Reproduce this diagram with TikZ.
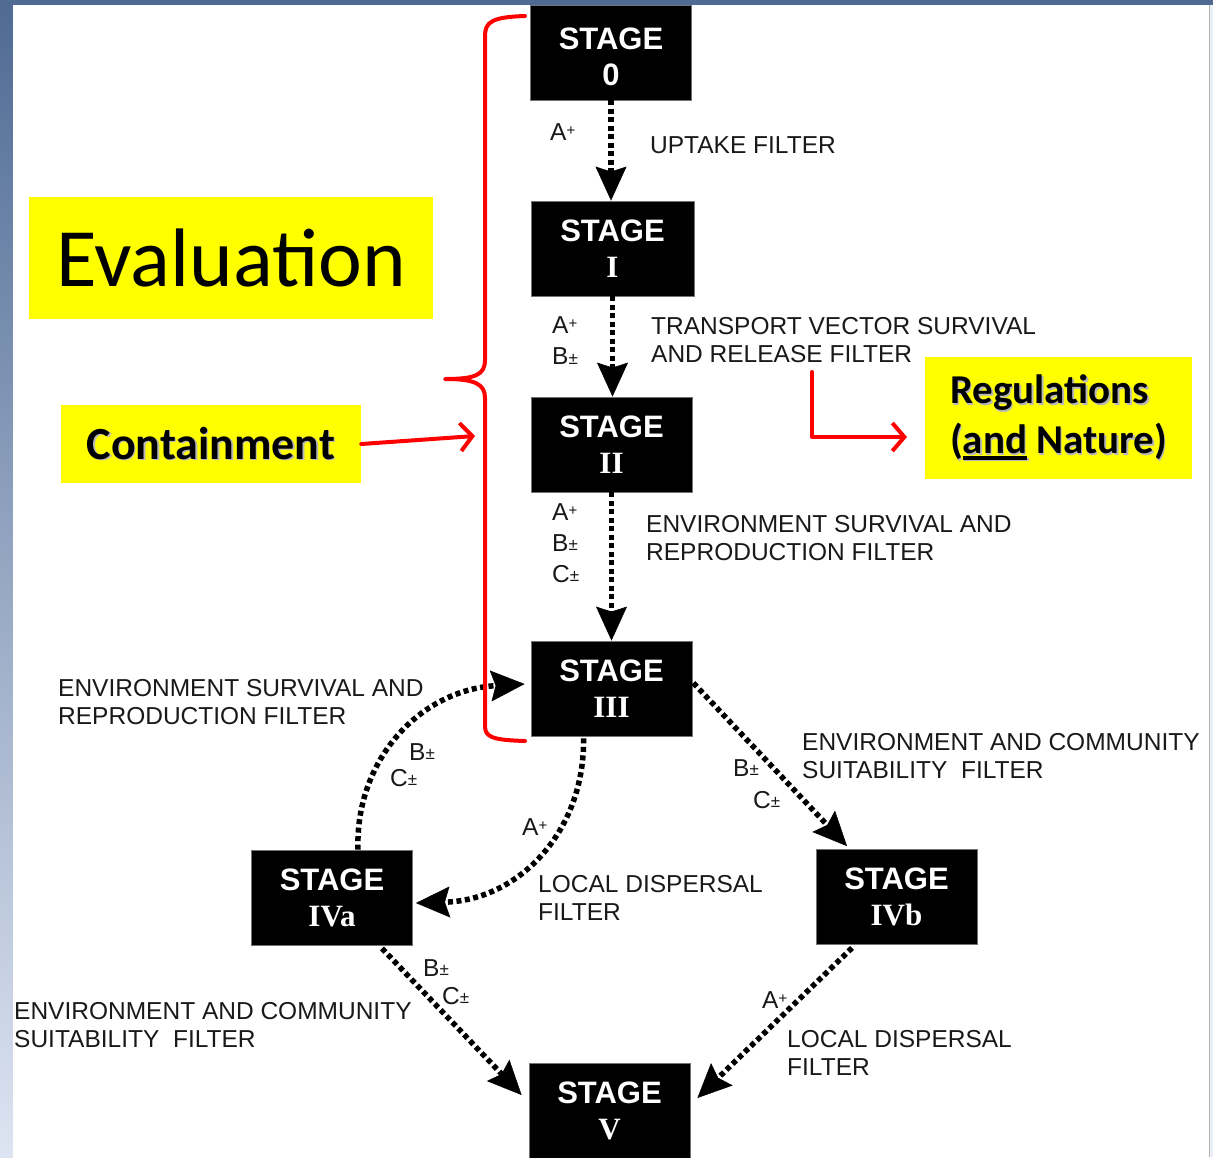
\documentclass[tikz,border=0pt]{standalone}
\usepackage{fontspec}
\setmainfont{Liberation Sans}
\newfontfamily\lsans{Liberation Sans}
\newfontfamily\lserif{Liberation Serif}
\newfontfamily\carl{Carlito}
\usetikzlibrary{arrows.meta}
\definecolor{bardark}{HTML}{4F6B94}
\definecolor{barmid}{HTML}{BCCAE8}
\definecolor{barlight}{HTML}{DDE4F2}
\definecolor{hiyel}{HTML}{FFFF00}
\definecolor{redann}{HTML}{FF0000}
\newcommand\mypl{{\fontsize{15}{15}\selectfont\raisebox{5pt}{+}}}
\newcommand\mypm{{\fontsize{17}{17}\selectfont\raisebox{0.5pt}{±}}}
\newcommand\shadtxt[1]{\rlap{\kern1.5pt\raisebox{-1.5pt}{\color{black!28}#1}}#1}
\newcommand\thickul[1]{\setbox0\hbox{#1}\rlap{\rule[-6pt]{\wd0}{3.5pt}}\box0\relax}
\newcommand\stg[1]{{\lsans\bfseries STAGE}\\{\lserif\bfseries #1}}
\tikzset{
  stagebox/.style={fill=black, draw=black!55, line width=0.8pt, minimum width=161pt,
    minimum height=95pt, inner sep=0pt, text=white, align=center,
    font=\fontsize{31}{36}\selectfont},
  lbl/.style={anchor=west, inner sep=0pt, align=left, text=black!90,
    font=\fontsize{24.5}{28}\selectfont},
  lblstack/.style={lbl, font=\fontsize{24.5}{31}\selectfont},
  dotarrow/.style={line width=5.5pt, dash pattern=on 5pt off 3.5pt,
    -{Stealth[length=34pt, width=31pt, inset=5pt, line width=0.5pt]}},
  redline/.style={redann, line width=4pt, line cap=round, line join=round},
  redarrow/.style={redline, -{Straight Barb[length=12pt, width=28pt]}},
  yelbox/.style={fill=hiyel, inner sep=0pt, text=black}
}
\begin{document}
\begin{tikzpicture}[x=1pt, y=-1pt]
\useasboundingbox (0,0) rectangle (1213,1157);
% frame background
\shade[top color=bardark, middle color=barmid, bottom color=barlight] (0,0) rectangle (13,1157);
\fill[bardark] (0,0) rectangle (1213,5);
\fill[white] (13,5) rectangle (1209,1157);
\fill[barlight!60!white] (1209,5) rectangle (1213,1157);
\draw[black!30, line width=1pt] (1209,5) -- (1209,1157);

% stages
\node[stagebox] (s0) at (611,52.5) {\parbox{150pt}{\centering\vspace*{8pt}\lsans\bfseries STAGE\\ 0}};
\node[stagebox, minimum width=163pt] (s1) at (612.5,248.5) {\stg{I}};
\node[stagebox] (s2) at (611.5,444.5) {\stg{II}};
\node[stagebox] (s3) at (611.5,688.5) {\stg{III}};
\node[stagebox] (s4a) at (332,897.5) {\stg{IVa}};
\node[stagebox] (s4b) at (896.5,897) {\stg{IVb}};
\node[stagebox] (s5) at (609.5,1110.5) {\stg{V}};

% connectors
\draw[dotarrow] (s0.south) -- (s0.south |- s1.north);
\draw[dotarrow] (s1.south) -- (s1.south |- s2.north);
\draw[dotarrow] (s2.south) -- (s2.south |- s3.north);
\draw[dotarrow] ([xshift=26pt]s4a.north) .. controls (355,760) and (420,690) .. ([xshift=-6pt,yshift=4.5pt]s3.west);
\draw[dotarrow] ([xshift=-28pt,yshift=-2pt]s3.south) .. controls (585,830) and (520,900) .. ([xshift=3pt,yshift=-5.5pt]s4a.east);
\draw[dotarrow] ([xshift=1pt,yshift=5.5pt]s3.east) -- ([xshift=-49.5pt,yshift=3pt]s4b.north);
\draw[dotarrow] ([xshift=50pt,yshift=-3pt]s4a.south) -- ([xshift=-7pt,yshift=15.5pt]s5.west);
\draw[dotarrow] ([xshift=-44.5pt,yshift=-3pt]s4b.south) -- ([xshift=7pt,yshift=12.5pt]s5.east);

% labels
\node[lbl] (l01a) at (550,132) {A\mypl};
\node[lbl] (l01) at (650,145) {UPTAKE FILTER};
\node[lblstack] (l12a) at (552,341) {A\mypl\\B\mypm};
\node[lbl] (l12) at (651,340) {TRANSPORT VECTOR SURVIVAL\\AND RELEASE FILTER};
\node[lblstack] (l23a) at (552,543) {A\mypl\\B\mypm\\C\mypm};
\node[lbl] (l23) at (646,538) {ENVIRONMENT SURVIVAL AND\\REPRODUCTION FILTER};
\node[lbl] (l43) at (58,702) {ENVIRONMENT SURVIVAL AND\\REPRODUCTION FILTER};
\node[lbl] (l43b) at (409,752) {B\mypm};
\node[lbl] (l43c) at (390,778) {C\mypm};
\node[lbl] (l34a) at (522,827) {A\mypl};
\node[lbl] (l34) at (538,898) {LOCAL DISPERSAL\\FILTER};
\node[lbl] (l3b) at (802,756) {ENVIRONMENT AND COMMUNITY\\SUITABILITY\ \ FILTER};
\node[lbl] (l3bb) at (733,768) {B\mypm};
\node[lbl] (l3bc) at (753,800) {C\mypm};
\node[lbl] (l4a5b) at (423,968) {B\mypm};
\node[lbl] (l4a5c) at (442,996) {C\mypm};
\node[lbl] (l4a5) at (14,1025) {ENVIRONMENT AND COMMUNITY\\SUITABILITY\ \ FILTER};
\node[lbl] (l4b5a) at (762,1000) {A\mypl};
\node[lbl] (l4b5) at (787,1053) {LOCAL DISPERSAL\\FILTER};

% yellow annotation boxes
\node[yelbox, minimum width=404pt, minimum height=122pt, font=\carl\fontsize{83}{90}\selectfont] (eval) at (231,258) {Evaluation};
\node[yelbox, minimum width=300pt, minimum height=78pt, font=\carl\bfseries\fontsize{46}{50}\selectfont] (cont) at (211,444) {\shadtxt{Containment}};
\node[yelbox, minimum width=267pt, minimum height=122pt, align=left, font=\carl\bfseries\fontsize{41}{50}\selectfont] (reg) at (1058.5,418) {\shadtxt{Regulations}\\\shadtxt{(\thickul{and} Nature)}};

% red brace and arrows
\coordinate (bracetop) at (525,16);
\coordinate (bracebot) at (525,741);
\draw[redline] (bracetop) .. controls (492,17) and (485,22) .. (485,36)
  -- (485,360) .. controls (485,375) and (475,379) .. (445,379)
  .. controls (475,379) and (485,384) .. (485,398)
  -- (485,726) .. controls (485,737) and (492,740) .. (bracebot);
\coordinate (conttip) at (475,436);
\draw[redarrow] (cont.east) -- (conttip);
\coordinate (regstart) at (812,372);
\coordinate (regtip) at (907,437);
\draw[redarrow] (regstart) |- (regtip);
\end{tikzpicture}
\end{document}
